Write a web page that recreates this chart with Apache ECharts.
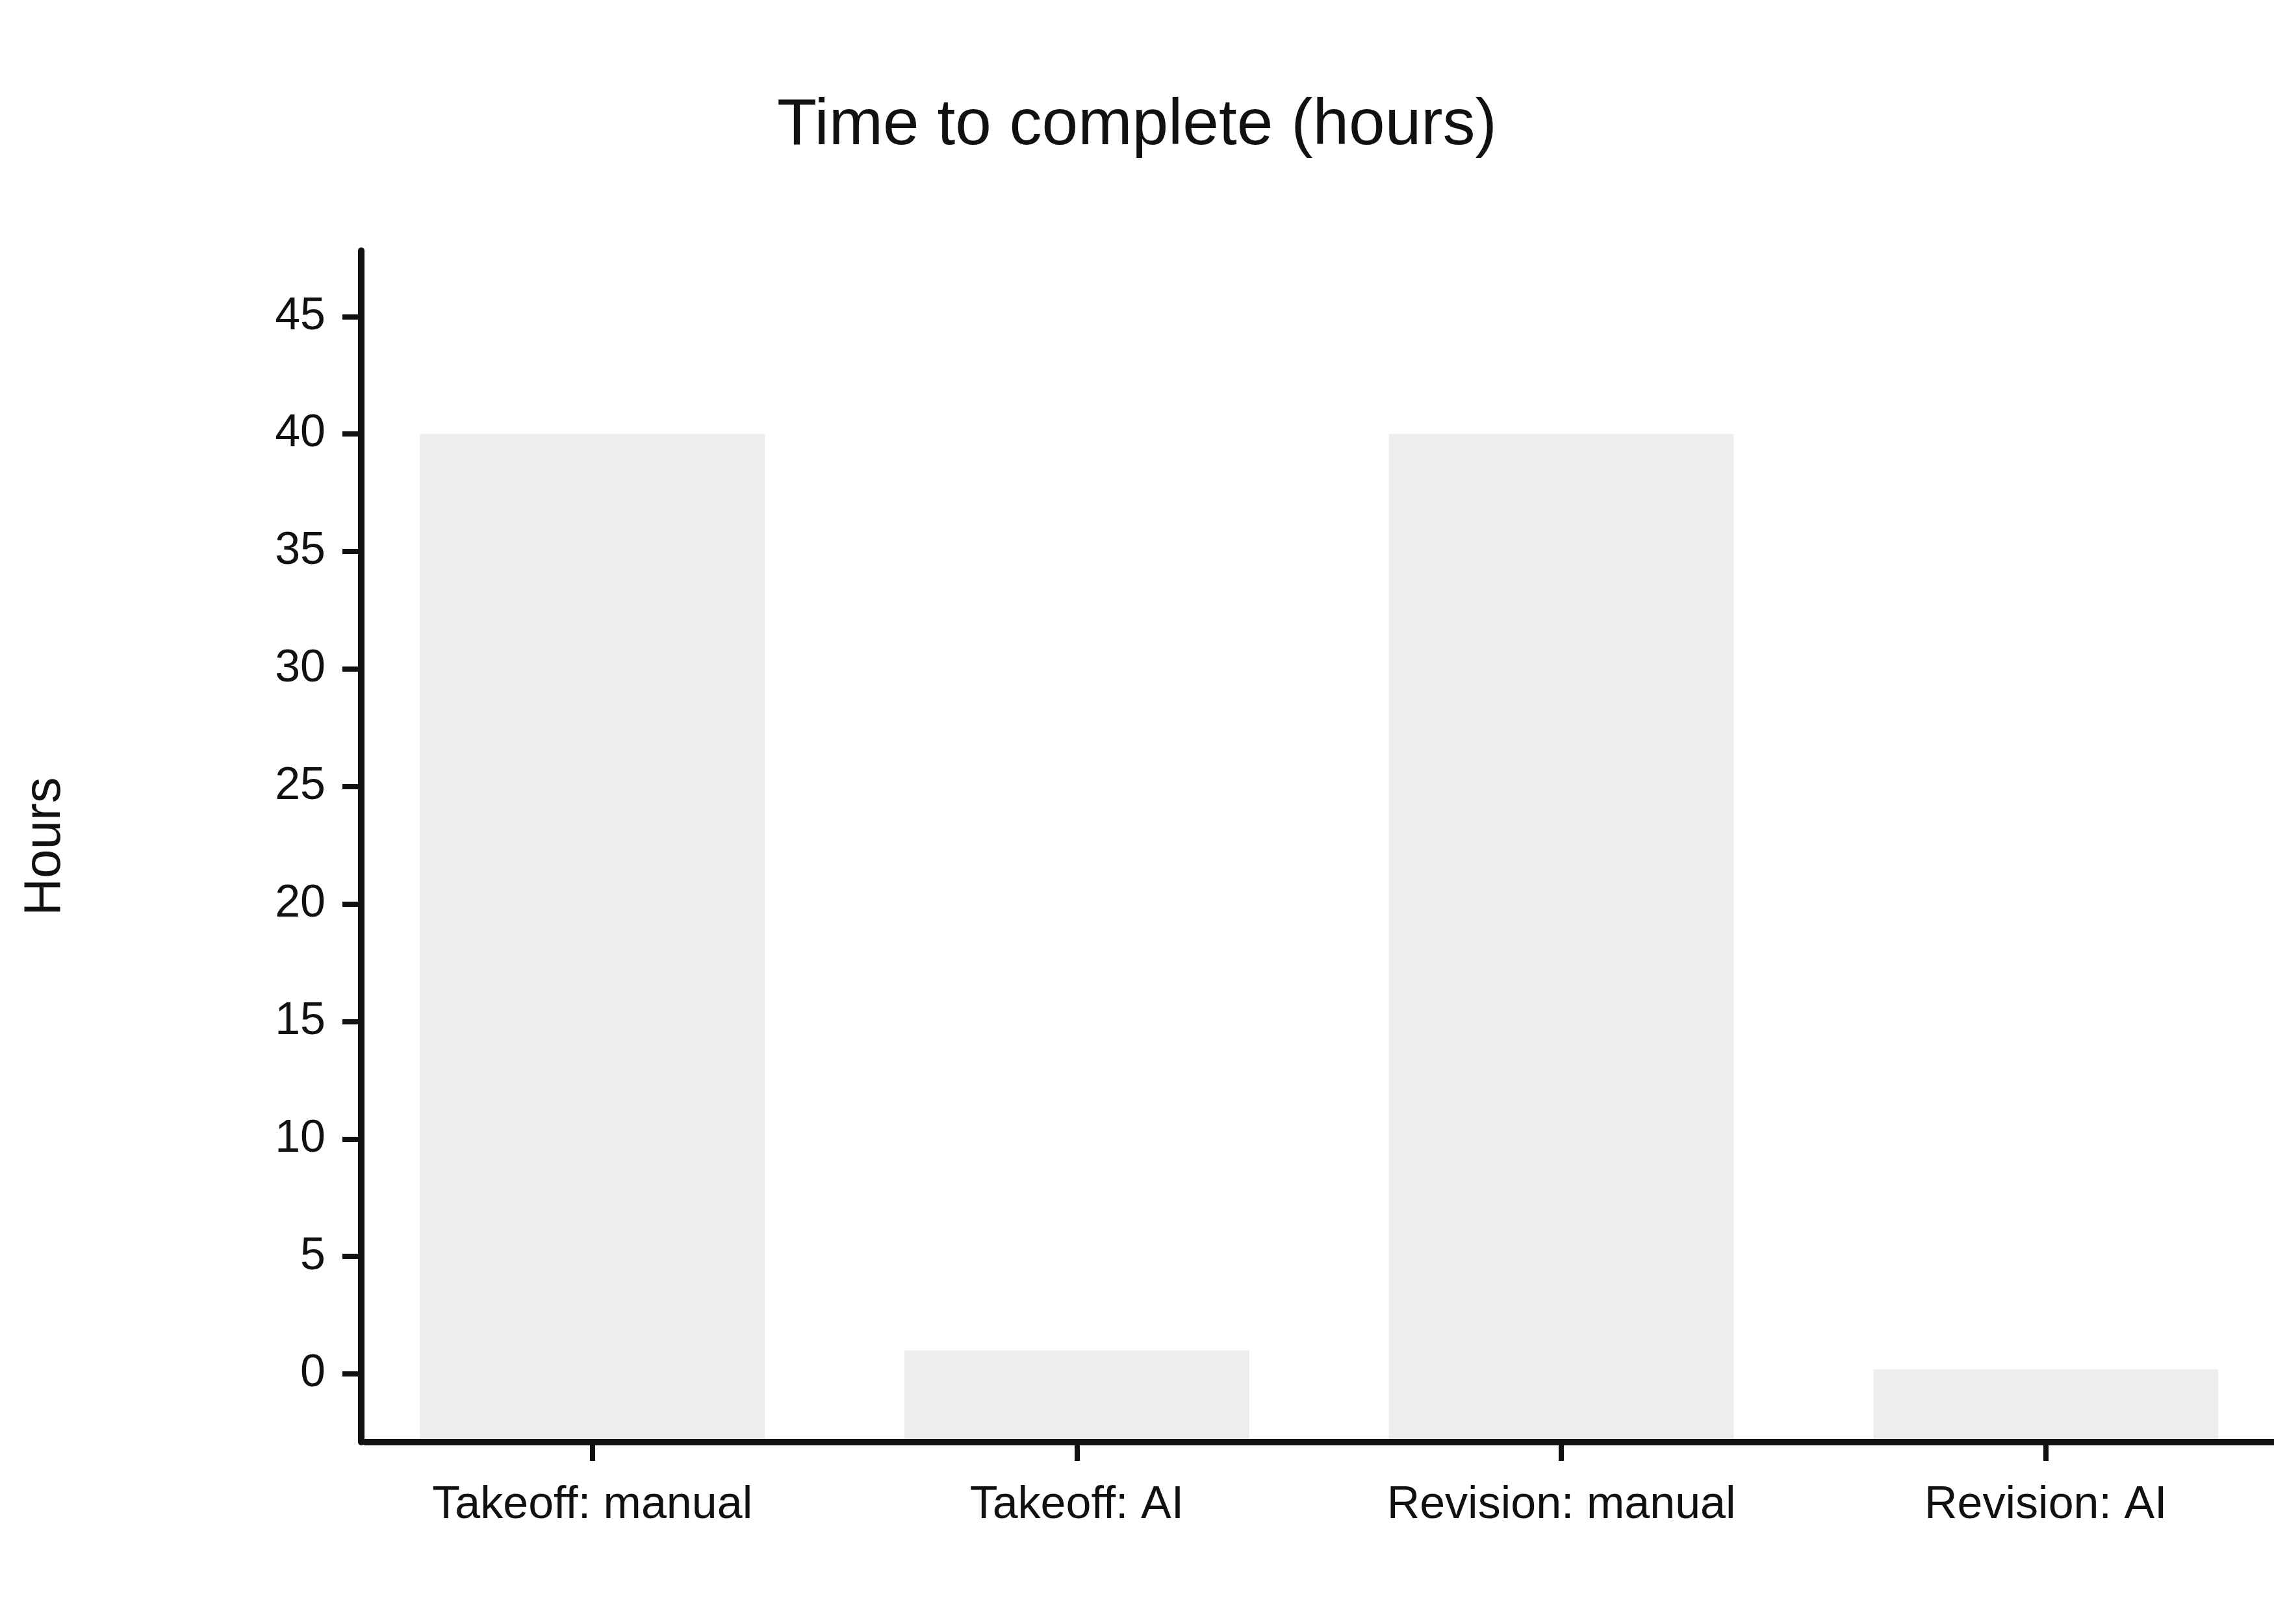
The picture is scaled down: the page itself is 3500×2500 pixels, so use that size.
<!DOCTYPE html>
<html>
<head>
<meta charset="utf-8">
<script src="https://cdn.jsdelivr.net/npm/echarts@6/dist/echarts.min.js"></script>
<style>
html,body{margin:0;padding:0;background:#fff;}
#chart{width:3500px;height:2500px;}
</style>
</head>
<body>
<div id="chart"></div>
<script>
const categories = ['Takeoff: manual', 'Takeoff: AI', 'Revision: manual', 'Revision: AI'];
const hours = [40, 1, 40, 0.2];
const yTicks = [0, 5, 10, 15, 20, 25, 30, 35, 40, 45];
const xTicks = [0, 1, 2, 3];

const Y_MIN = -2.9, Y_MAX = 47.8;
const X_MIN = -0.469, X_MAX = 3.471;
const BAR_WIDTH = 0.712;
const FONT = '"Liberation Sans", Arial, Helvetica, sans-serif';
const INK = '#111111';

const chart = echarts.init(document.getElementById('chart'), null, {renderer: 'canvas'});
chart.setOption({
  backgroundColor: '#ffffff',
  animation: false,
  title: {
    text: 'Time to complete (hours)',
    left: 'center',
    top: 139,
    textStyle: {fontFamily: FONT, fontSize: 100, fontWeight: 'normal', color: INK}
  },
  grid: {left: 562, right: 0, top: 386, bottom: 280, containLabel: false},
  xAxis: {
    type: 'value',
    min: X_MIN,
    max: X_MAX,
    z: 5,
    splitLine: {show: false},
    axisLine: {show: true, onZero: false, lineStyle: {color: INK, width: 10}},
    axisTick: {show: true, length: 29, customValues: xTicks, lineStyle: {color: INK, width: 8}},
    axisLabel: {
      show: true, margin: 63, customValues: xTicks,
      fontFamily: FONT, fontSize: 70, color: INK,
      formatter: v => categories[Math.round(v)]
    }
  },
  yAxis: {
    type: 'value',
    min: Y_MIN,
    max: Y_MAX,
    offset: 6,
    z: 5,
    name: 'Hours',
    nameLocation: 'middle',
    nameRotate: 90,
    nameGap: 446,
    nameTextStyle: {fontFamily: FONT, fontSize: 80, color: INK},
    splitLine: {show: false},
    axisLine: {show: true, onZero: false, lineStyle: {color: INK, width: 10}},
    axisTick: {show: true, length: 29, customValues: yTicks, lineStyle: {color: INK, width: 8}},
    axisLabel: {show: true, margin: 55, customValues: yTicks, fontFamily: FONT, fontSize: 70, color: INK}
  },
  series: [{
    type: 'custom',
    clip: true,
    encode: {x: 0, y: 1},
    data: categories.map((c, i) => [i, hours[i]]),
    renderItem: function (params, api) {
      const x = api.value(0);
      const v = api.value(1);
      const top = api.coord([x, v]);
      const bottom = api.coord([x, Y_MIN]);
      const w = api.size([BAR_WIDTH, 0])[0];
      return {
        type: 'rect',
        shape: {x: top[0] - w / 2, y: top[1], width: w, height: bottom[1] - top[1]},
        style: {fill: '#ededed'}
      };
    },
    z: 1
  }]
});
</script>
</body>
</html>
